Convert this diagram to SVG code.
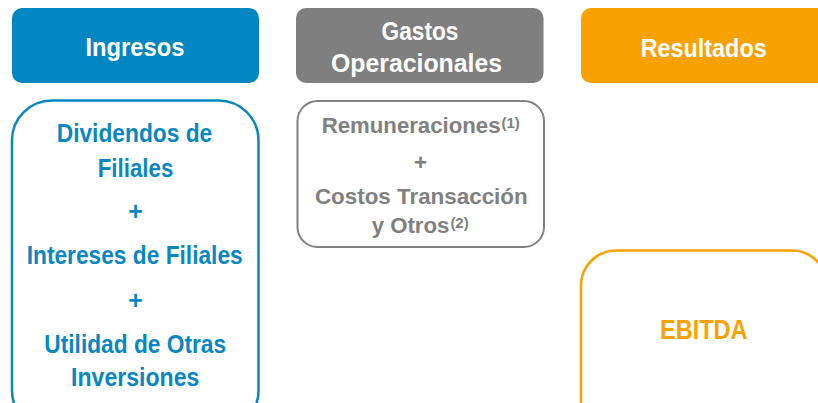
<svg xmlns="http://www.w3.org/2000/svg" width="818" height="403" viewBox="0 0 818 403">
<style>
text{font-family:"Liberation Sans",Arial,sans-serif;font-weight:bold;}
.hd{fill:#ffffff;font-size:25px;text-anchor:middle;}
.bl{fill:#0A87C1;font-size:25px;text-anchor:middle;}
.gr{fill:#808080;font-size:22.2px;}
.grm{fill:#808080;font-size:22.4px;text-anchor:middle;}
.or{fill:#F9A100;font-size:28px;text-anchor:middle;}
.sup{font-size:15px;}
</style>
<rect width="818" height="403" fill="#ffffff"/>
<g id="ingresos-header">
<rect x="12" y="8" width="247" height="75" rx="10" fill="#0087C1"/>
<text class="hd" x="135" y="56" textLength="99" lengthAdjust="spacingAndGlyphs">Ingresos</text>
</g>
<g id="gastos-header">
<rect x="296" y="8" width="247.5" height="75" rx="10" fill="#7F7F7F"/>
<text class="hd" x="420" y="39.5" textLength="77" lengthAdjust="spacingAndGlyphs">Gastos</text>
<text class="hd" x="416.5" y="72" textLength="171" lengthAdjust="spacingAndGlyphs">Operacionales</text>
</g>
<g id="resultados-header">
<rect x="581" y="8" width="247" height="75" rx="10" fill="#F9A100"/>
<text class="hd" x="703.7" y="56.7" textLength="126" lengthAdjust="spacingAndGlyphs">Resultados</text>
</g>
<g id="ingresos-body">
<rect x="12" y="100.5" width="246.5" height="330" rx="40" fill="none" stroke="#0A87C1" stroke-width="2.5"/>
<text class="bl" x="134.5" y="141.7" textLength="155.6" lengthAdjust="spacingAndGlyphs">Dividendos de</text>
<text class="bl" x="135.5" y="176.7" textLength="75.6" lengthAdjust="spacingAndGlyphs">Filiales</text>
<text class="bl" x="135.5" y="220">+</text>
<text class="bl" x="134.7" y="264.3" textLength="216" lengthAdjust="spacingAndGlyphs">Intereses de Filiales</text>
<text class="bl" x="135.5" y="308.5">+</text>
<text class="bl" x="135.2" y="352.7" textLength="181.7" lengthAdjust="spacingAndGlyphs">Utilidad de Otras</text>
<text class="bl" x="135.2" y="386" textLength="128.3" lengthAdjust="spacingAndGlyphs">Inversiones</text>
</g>
<g id="gastos-body">
<rect x="297.5" y="101" width="246.5" height="146" rx="20" fill="none" stroke="#808080" stroke-width="2"/>
<text class="gr" x="321.7" y="133.3">Remuneraciones<tspan class="sup" dx="1" dy="-5">(1)</tspan></text>
<text class="grm" x="420.5" y="169.5">+</text>
<text class="grm" x="421.3" y="204">Costos Transacción</text>
<text class="gr" x="371.7" y="233.3">y Otros<tspan class="sup" dx="1" dy="-5">(2)</tspan></text>
</g>
<g id="ebitda-body">
<rect x="581" y="250.5" width="246" height="200" rx="35" fill="none" stroke="#F9A100" stroke-width="2.5"/>
<text class="or" x="703.8" y="339" textLength="87.7" lengthAdjust="spacingAndGlyphs">EBITDA</text>
</g>
<g id="connectors"></g>
</svg>
